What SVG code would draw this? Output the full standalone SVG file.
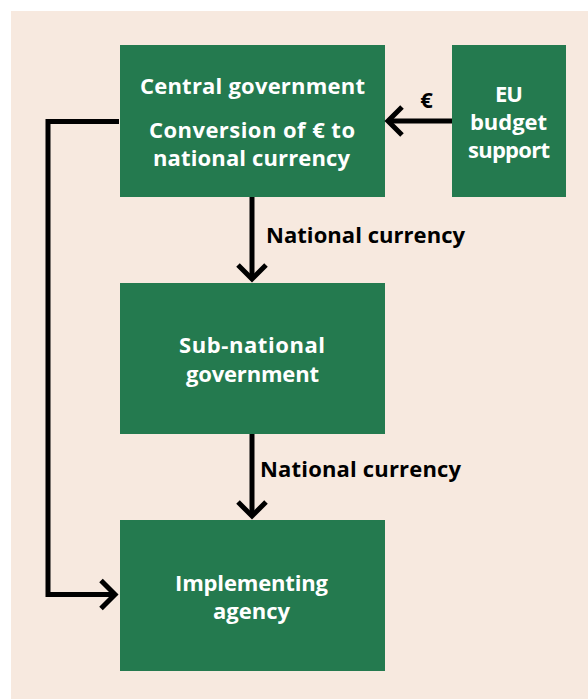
<svg xmlns="http://www.w3.org/2000/svg" width="588" height="699" viewBox="0 0 588 699">
<style>
.box{fill:#247a4f}
.t{font-family:"Open Sans","Noto Sans","Liberation Sans",sans-serif;font-weight:bold;font-size:22px}
.w{fill:#ffffff;text-anchor:middle}
.k{fill:#000000}
.c{fill:none;stroke:#000000;stroke-width:5;stroke-linejoin:miter}
</style>
<defs>
<marker id="arr" markerUnits="userSpaceOnUse" viewBox="-20 -20 28 40" markerWidth="28" markerHeight="40" refX="0" refY="0" orient="auto" overflow="visible">
<path d="M-14,-14 L0,0 L-14,14" fill="none" stroke="#000000" stroke-width="5" stroke-linejoin="miter"/>
</marker>
</defs>
<rect x="0" y="0" width="588" height="699" fill="#ffffff"/>
<rect x="11" y="11" width="577" height="688" fill="#f7e9df"/>
<g id="central">
<rect class="box" x="120" y="45" width="265" height="152"/>
<text class="t w" x="252.5" y="94" textLength="225">Central government</text>
<text class="t w" x="252" y="138" textLength="206">Conversion of € to</text>
<text class="t w" x="251.5" y="166" textLength="197">national currency</text>
</g>
<g id="eu">
<rect class="box" x="452" y="45" width="114" height="152"/>
<text class="t w" x="509" y="102" textLength="28">EU</text>
<text class="t w" x="508.5" y="130" textLength="77">budget</text>
<text class="t w" x="509" y="158" textLength="82">support</text>
</g>
<g id="subnational">
<rect class="box" x="120" y="283" width="265" height="151"/>
<text class="t w" x="252" y="353" textLength="146">Sub-national</text>
<text class="t w" x="252.5" y="382" textLength="133">government</text>
</g>
<g id="agency">
<rect class="box" x="120" y="520" width="265" height="151"/>
<text class="t w" x="251.5" y="591" textLength="153">Implementing</text>
<text class="t w" x="251.5" y="619" textLength="77">agency</text>
</g>
<g id="connectors">
<path class="c" d="M452,121 H388" marker-end="url(#arr)"/>
<text class="t k" x="426.5" y="108" text-anchor="middle" font-size="23">€</text>
<path class="c" d="M252,197 V279" marker-end="url(#arr)"/>
<text class="t k" x="266" y="243" textLength="199">National currency</text>
<path class="c" d="M252,434 V516" marker-end="url(#arr)"/>
<text class="t k" x="260" y="477" textLength="201">National currency</text>
<path class="c" d="M119,121.5 H48 V594.5 H115" marker-end="url(#arr)"/>
</g>
</svg>
